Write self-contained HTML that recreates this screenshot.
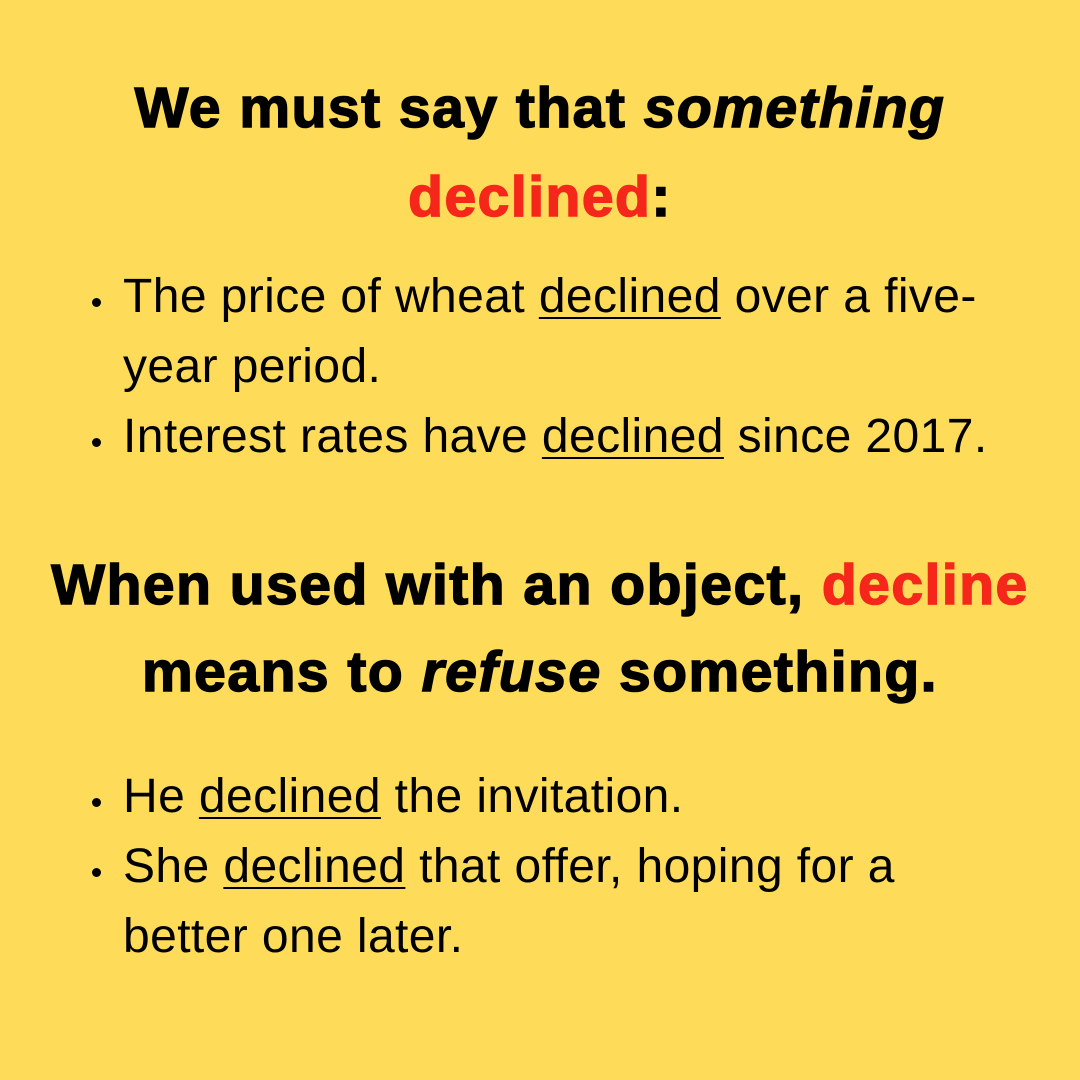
<!DOCTYPE html>
<html>
<head>
<meta charset="utf-8">
<style>
  html,body{margin:0;padding:0;}
  body{width:1080px;height:1080px;background:#FEDC5A;position:relative;overflow:hidden;
    font-family:"Liberation Sans",sans-serif;color:#000;}
  .h{position:absolute;left:0;width:1080px;text-align:center;font-weight:bold;font-size:57px;
    line-height:70px;white-space:nowrap;letter-spacing:1.5px;-webkit-text-stroke:1.5px #000;}
  .red{color:#F5271B;-webkit-text-stroke:1.5px #F5271B;}
  .b{position:absolute;left:123px;font-size:48px;line-height:70px;white-space:nowrap;letter-spacing:0.4px;}
  .dot{position:absolute;left:92px;width:9px;height:9px;border-radius:50%;background:#000;}
  u{text-decoration-thickness:2px;text-underline-offset:5px;}
</style>
</head>
<body>
<div class="h" style="top:73px">We must say that <i>something</i></div>
<div class="h" style="top:162px"><span class="red">declined</span>:</div>

<div class="dot" style="top:298px"></div>
<div class="b" style="top:262px">The price of wheat <u>declined</u> over a five-</div>
<div class="b" style="top:332px">year period.</div>
<div class="dot" style="top:438px"></div>
<div class="b" style="top:402px">Interest rates have <u>declined</u> since 2017.</div>

<div class="h" style="top:550px">When used with an object, <span class="red">decline</span></div>
<div class="h" style="top:637px">means to <i>refuse</i> something.</div>

<div class="dot" style="top:798px"></div>
<div class="b" style="top:762px">He <u>declined</u> the invitation.</div>
<div class="dot" style="top:868px"></div>
<div class="b" style="top:832px">She <u>declined</u> that offer, hoping for a</div>
<div class="b" style="top:902px">better one later.</div>
</body>
</html>
